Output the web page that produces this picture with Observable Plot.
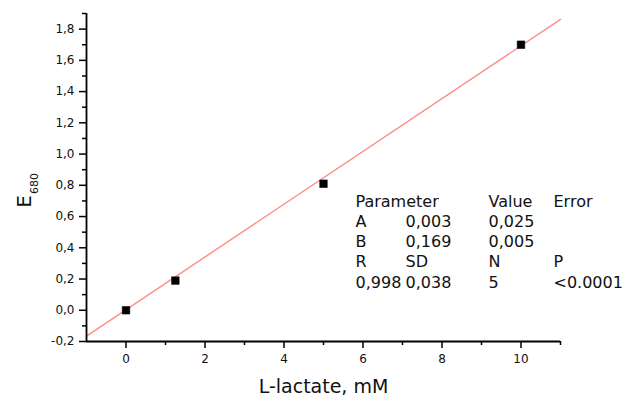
<!DOCTYPE html>
<html>
<head>
<meta charset="utf-8">
<script src="https://cdn.jsdelivr.net/npm/d3@7"></script>
<script src="https://cdn.jsdelivr.net/npm/@observablehq/plot@0.6"></script>
<style>
  html, body { margin: 0; padding: 0; background: #fff; }
  #chart svg { display: block; }
</style>
</head>
<body>
<div id="chart"></div>
<script>
// ---- data ----
const concentration = [0, 1.25, 5, 10];          // L-lactate, mM
const absorbance = [0.0, 0.19, 0.81, 1.70];      // E680
const fitA = 0.003;                               // intercept
const fitB = 0.169;                               // slope
const fitRange = [-1, 11];                        // x extent of fitted line
const xMajorTicks = [0, 2, 4, 6, 8, 10];
const xMinorTicks = [1, 3, 5, 7, 9, 11];
const yMajorTicks = [-0.2, 0, 0.2, 0.4, 0.6, 0.8, 1.0, 1.2, 1.4, 1.6, 1.8];
const yMinorTicks = [-0.1, 0.1, 0.3, 0.5, 0.7, 0.9, 1.1, 1.3, 1.5, 1.7, 1.9];
const tableRows = [
  ["Parameter", "", "Value", "Error"],
  ["A", "0,003", "0,025", ""],
  ["B", "0,169", "0,005", ""],
  ["R", "SD", "N", "P"],
  ["0,998", "0,038", "5", "<0.0001"]
];
const xLabel = "L-lactate, mM";
const yLabelMain = "E";
const yLabelSub = "680";

// ---- layout ----
const colDx = [269, 319, 402, 467];
const rowDy = [188, 208, 228, 248.5, 269];
const FONT = "DejaVu Sans, sans-serif";

const points = concentration.map((x, i) => ({x, y: absorbance[i]}));
const fitLine = fitRange.map(x => ({x, y: fitA + fitB * x}));
const fmt = d3.formatLocale({decimal: ",", thousands: ".", grouping: [3], currency: ["", ""], minus: "-"}).format(".1f");

const cellMarks = [];
tableRows.forEach((row, r) => row.forEach((t, c) => {
  if (t) cellMarks.push(Plot.text([t], {
    frameAnchor: "top-left", text: d => d, textAnchor: "start", lineAnchor: "middle",
    dx: colDx[c], dy: rowDy[r], fontSize: 16, fill: "#111"
  }));
}));

const chart = Plot.plot({
  width: 624,
  height: 396,
  marginLeft: 86,
  marginRight: 64,
  marginTop: 13,
  marginBottom: 55,
  style: {fontFamily: FONT, background: "#fff", color: "#111"},
  x: {domain: [-1, 11], label: null},
  y: {domain: [-0.2, 1.9], label: null},
  marks: [
    Plot.line(fitLine, {x: "x", y: "y", stroke: "#ff8a8a", strokeWidth: 1.4}),
    Plot.axisX({ticks: xMajorTicks, tickSize: 7, tickPadding: 6, tickFormat: d => String(d), fontSize: 12, stroke: "#000", strokeWidth: 1.5, label: null}),
    Plot.axisX({ticks: xMinorTicks, tickSize: 4, tickFormat: () => "", stroke: "#000", strokeWidth: 1.5, label: null}),
    Plot.axisY({ticks: yMajorTicks, tickSize: 7, tickPadding: 5, tickFormat: fmt, fontSize: 12, stroke: "#000", strokeWidth: 1.5, label: null}),
    Plot.axisY({ticks: yMinorTicks, tickSize: 4, tickFormat: () => "", stroke: "#000", strokeWidth: 1.5, label: null}),
    Plot.ruleX([-1], {stroke: "#000", strokeWidth: 1.8}),
    Plot.ruleY([-0.2], {stroke: "#000", strokeWidth: 1.8}),
    Plot.dot(points, {x: "x", y: "y", symbol: "square", r: 4.3, fill: "#000", stroke: "#000", strokeWidth: 0.5}),
    ...cellMarks,
    Plot.text([xLabel], {frameAnchor: "bottom", text: d => d, lineAnchor: "middle", dy: 45, fontSize: 19, fill: "#111"}),
    Plot.text([yLabelMain], {frameAnchor: "left", text: d => d, rotate: -90, textAnchor: "middle", lineAnchor: "middle", dx: -62, dy: 24, fontSize: 20, fill: "#111"}),
    Plot.text([yLabelSub], {frameAnchor: "left", text: d => d, rotate: -90, textAnchor: "middle", lineAnchor: "middle", dx: -52, dy: 6, fontSize: 11, fill: "#111"})
  ]
});
document.getElementById("chart").appendChild(chart);
</script>
</body>
</html>
